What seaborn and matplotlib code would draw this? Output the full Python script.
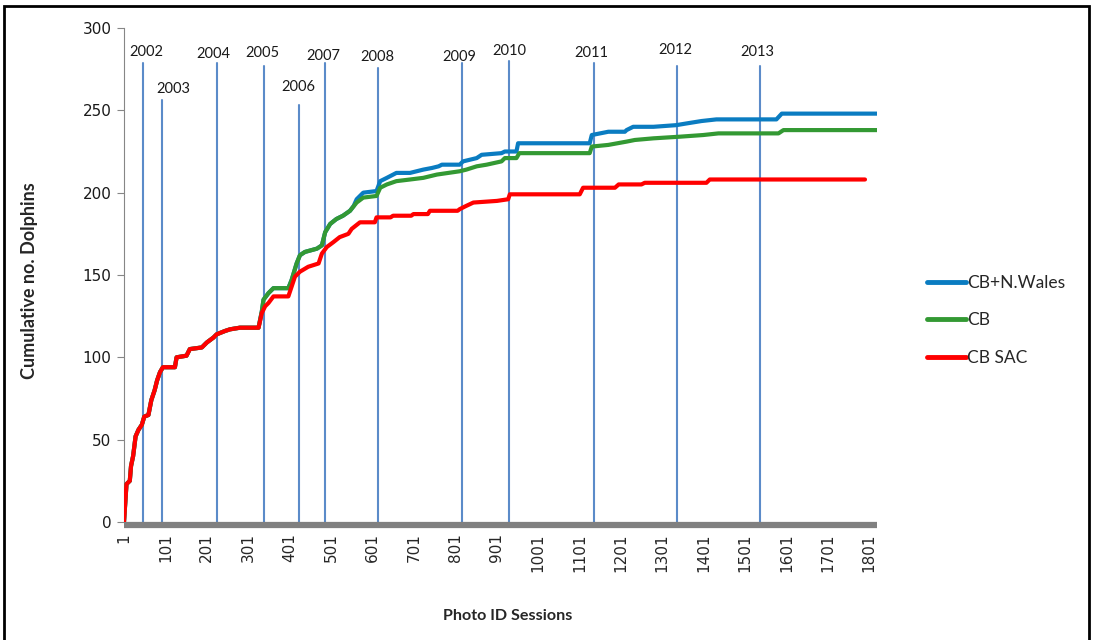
import numpy as np
import pandas as pd
import matplotlib.pyplot as plt
import seaborn as sns
from matplotlib.patches import Rectangle
from matplotlib.lines import Line2D

# ---- data ----
# part of the curve shared by all three series (session, cumulative count)
shared_sessions = [1, 7, 15, 18, 23, 29, 36, 44, 50, 60, 67, 75, 81, 88, 95, 124, 128,
                   152, 160, 189, 201, 217, 225, 245, 257, 281, 326]
shared_values = [0, 23, 25, 34, 40, 52, 56, 59, 64, 65, 74, 80, 86, 91, 94, 94, 100,
                 101, 105, 106, 109, 112, 114, 116, 117, 118, 118]

# CB SAC after it splits off
sac_sessions = [334, 342, 350, 362, 398, 406, 414, 426, 446, 471, 479, 491, 507, 522, 543,
                551, 571, 607, 611, 645, 651, 695, 700, 735, 740, 807, 812, 828, 845, 902,
                929, 933, 1102, 1110, 1187, 1196, 1251, 1259, 1408, 1416, 1791]
sac_values = [127, 131, 133, 137, 137, 143, 149, 152, 155, 157, 163, 167, 170, 173, 175,
              178, 182, 182, 185, 185, 186, 186, 187, 187, 189, 189, 190, 192, 194, 195,
              196, 199, 199, 203, 203, 205, 205, 206, 206, 208, 208]

# CB, shared with CB+N.Wales up to session 547
cb_sessions = [334, 338, 350, 362, 398, 406, 418, 426, 438, 467, 479, 487, 499, 514, 530, 547]
cb_values = [128, 135, 139, 142, 142, 147, 157, 162, 164, 166, 168, 176, 181, 184, 186, 189]

cb_tail_sessions = [563, 579, 611, 620, 636, 659, 692, 724, 757, 812, 828, 853, 877, 913,
                    921, 949, 956, 1126, 1131, 1171, 1215, 1235, 1280, 1344, 1400, 1437,
                    1582, 1594, 1820]
cb_tail_values = [194, 197, 198, 203, 205, 207, 208, 209, 211, 213, 214, 216, 217, 219,
                  221, 221, 224, 224, 228, 229, 231, 232, 233, 234, 235, 236,
                  236, 238, 238]

nw_tail_sessions = [556, 563, 579, 611, 620, 636, 659, 692, 724, 745, 761, 769, 812, 820,
                    853, 865, 913, 921, 949, 953, 1126, 1131, 1171, 1211, 1215, 1231, 1280,
                    1335, 1359, 1396, 1432, 1577, 1590, 1820]
nw_tail_values = [192, 196, 200, 201, 207, 209, 212, 212, 214, 215, 216, 217, 217, 219,
                  221, 223, 224, 225, 225, 230, 230, 235, 237, 237, 238, 240, 240,
                  241, 242, 243.5, 244.5, 244.5, 248, 248]

# start of each survey year (session) and the height of its marker line
years = ["2002", "2003", "2004", "2005", "2006", "2007", "2008",
         "2009", "2010", "2011", "2012", "2013"]
year_sessions = [47, 93, 226, 339, 424, 486, 614, 817, 931, 1136, 1337, 1537]
year_tops = [279, 256, 279, 277, 253, 279, 276, 279, 280, 279, 277, 277]

x_ticks = list(range(1, 1802, 100))
y_ticks = [0, 50, 100, 150, 200, 250, 300]

# ---- assemble the series ----
series = {
    "CB+N.Wales": (shared_sessions + cb_sessions + nw_tail_sessions,
                   shared_values + cb_values + nw_tail_values),
    "CB": (shared_sessions + cb_sessions + cb_tail_sessions,
           shared_values + cb_values + cb_tail_values),
    "CB SAC": (shared_sessions + sac_sessions, shared_values + sac_values),
}
names = ["CB+N.Wales", "CB", "CB SAC"]
colors = {"CB+N.Wales": "#0A7CC1", "CB": "#339933", "CB SAC": "#FF0000"}

frames = []
for name, (xs, ys) in series.items():
    frames.append(pd.DataFrame({"session": xs, "dolphins": ys, "series": name}))
df = pd.concat(frames, ignore_index=True)

# ---- figure ----
sns.set_theme(style="white")
plt.rcParams["font.family"] = ["DejaVu Sans"]

fig = plt.figure(figsize=(10.94, 6.4), dpi=100)
ax = fig.add_axes([124 / 1094, 1 - 522 / 640, 753 / 1094, 494 / 640])

# year marker lines
for s, top in zip(year_sessions, year_tops):
    ax.plot([s, s], [0, top], color="#5B8BC9", lw=1.5, zorder=1)

sns.lineplot(data=df, x="session", y="dolphins", hue="series", palette=colors,
             hue_order=names, estimator=None, sort=False,
             lw=3, ax=ax, legend=False, zorder=3)

# year labels (manually placed text boxes in the original)
label_x = [54, 119, 216, 336, 421, 482, 614, 810, 933, 1129, 1334, 1530]
label_y = [281, 258.7, 280, 280.5, 260, 278.7, 278, 278, 281.7, 280.5, 282.3, 281]
for yr, lx, ly in zip(years, label_x, label_y):
    ax.text(lx, ly, yr, ha="center", va="bottom", fontsize=10.5,
            family="Lato", color="#1a1a1a", zorder=4)

ax.set_xlim(1, 1820)
ax.set_ylim(0, 300)
ax.set_xticks(x_ticks)
ax.set_xticklabels([str(t) for t in x_ticks], fontsize=11, color="#1a1a1a")
ax.set_yticks(y_ticks)
ax.set_yticklabels([str(t) for t in y_ticks], fontsize=11, color="#1a1a1a")
ax.tick_params(axis="x", length=0, pad=6, labelrotation=90)
ax.tick_params(axis="y", length=5, width=0.8, color="#868686", left=True, pad=4)
ax.set_xlabel("")
ax.set_ylabel("")

for side in ["top", "right"]:
    ax.spines[side].set_visible(False)
ax.spines["left"].set_color("#868686")
ax.spines["left"].set_linewidth(0.8)
ax.spines["bottom"].set_color("#808080")
ax.spines["bottom"].set_linewidth(4.5)
ax.spines["bottom"].set_position(("outward", 2))
ax.spines["bottom"].set_capstyle("butt")

fig.text(30 / 1094, 1 - 281 / 640, "Cumulative no. Dolphins", rotation=90,
         ha="center", va="center", fontsize=13, fontweight="bold", family="Lato")
fig.text(508 / 1094, 1 - 616 / 640, "Photo ID Sessions", ha="center", va="center",
         fontsize=11.6, fontweight="bold", family="Lato")

# legend
handles = [Line2D([], [], color=colors[n], lw=3.5) for n in names]
leg = fig.legend(handles, names, loc="upper left",
                 bbox_to_anchor=(911 / 1094, 1 - 259 / 640), frameon=False,
                 handlelength=2.25, handletextpad=0.1, labelspacing=1.25,
                 prop={"family": "Lato", "size": 12.5})

# outer frame of the chart area
fig.patches.append(Rectangle((4 / 1094, -0.02), 1085 / 1094, 1.02 - 6 / 640,
                             transform=fig.transFigure, fill=False, ec="black", lw=2))

fig.savefig("out.png", dpi=100)
